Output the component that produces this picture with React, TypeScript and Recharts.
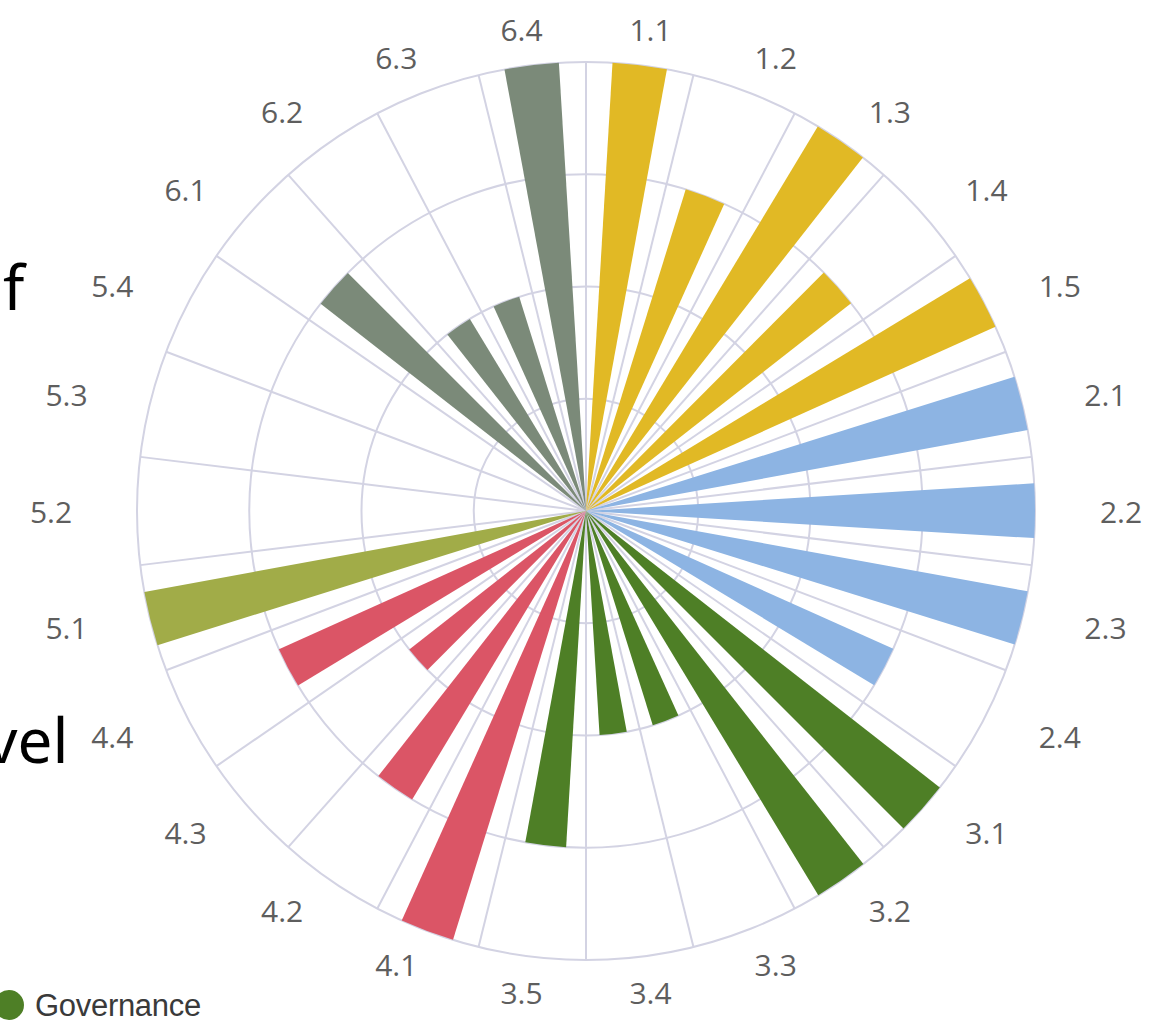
import * as React from "react";
import {
  RadialBarChart,
  RadialBar,
  PolarGrid,
  PolarAngleAxis,
  PolarRadiusAxis,
  Cell
} from "recharts";

// indicator codes, clockwise from 12 o'clock
const categories = [
  "1.1", "1.2", "1.3", "1.4", "1.5",
  "2.1", "2.2", "2.3", "2.4",
  "3.1", "3.2", "3.3", "3.4", "3.5",
  "4.1", "4.2", "4.3", "4.4",
  "5.1", "5.2", "5.3", "5.4",
  "6.1", "6.2", "6.3", "6.4"
];

// score per indicator (0-4)
const scores = [
  4, 3, 4, 3, 4,
  4, 4, 4, 3,
  4, 4, 2, 2, 3,
  4, 3, 2, 3,
  4, 0, 0, 0,
  3, 2, 2, 4
];

const groupColors: Record<string, string> = {
  "1": "#E1B925",
  "2": "#8DB4E3",
  "3": "#4E7F26",
  "4": "#DB5566",
  "5": "#A1AC48",
  "6": "#7B8A79"
};

const data = categories.map((name, i) => ({ name, value: scores[i] }));

const W = 1171;
const H = 1023;
const CX = 586;
const CY = 511;
const R = 449;
const STEP = 360 / categories.length;

// label sits in the middle of its sector, a bit outside the ring
function AngleTick(props: any) {
  const idx = categories.indexOf(props.payload.value);
  const a = ((90 - (idx + 0.5) * STEP) * Math.PI) / 180;
  const x = CX + (R + 86) * Math.cos(a);
  const y = CY - (R + 36) * Math.sin(a);
  return (
    <text
      x={x}
      y={y}
      textAnchor="middle"
      dominantBaseline="central"
      fill="#5e5e5e"
      fontSize={30}
      fontFamily="'Open Sans', sans-serif"
    >
      {props.payload.value}
    </text>
  );
}

export default function App() {
  // spokes sit on the sector boundaries, not on the category centres
  const spokeAngles = categories.map((_, i) => 90 - i * STEP);

  return (
    <div style={{ position: "absolute", left: 0, top: 0, width: W, height: H, overflow: "hidden", background: "#fff" }}>
      <RadialBarChart
        width={W}
        height={H}
        data={data}
        cx={CX}
        cy={CY}
        innerRadius={0}
        outerRadius={R}
        startAngle={90 - STEP}
        endAngle={-270 - STEP}
        layout="centric"
        barCategoryGap="25%"
        margin={{ top: 0, right: 0, bottom: 0, left: 0 }}
      >
        <PolarGrid gridType="circle" polarAngles={spokeAngles} stroke="#D3D3E3" strokeWidth={2} />
        <PolarAngleAxis
          dataKey="name"
          type="category"
          tickLine={false}
          axisLine={false}
          tick={<AngleTick />}
        />
        <PolarRadiusAxis type="number" domain={[0, 4]} tickCount={5} tick={false} axisLine={false} />
        <RadialBar dataKey="value" isAnimationActive={false}>
          {data.map((d, i) => (
            <Cell key={`cell-${i}`} fill={groupColors[d.name.split(".")[0]]} />
          ))}
        </RadialBar>
      </RadialBarChart>

      <div style={{ position: "absolute", left: 3, top: 246, lineHeight: "80px", fontFamily: "'Noto Sans', sans-serif", fontSize: 62, color: "#000" }}>f</div>
      <div style={{ position: "absolute", left: -14, top: 699, lineHeight: "80px", fontFamily: "'Noto Sans', sans-serif", fontSize: 62, color: "#000" }}>vel</div>

      <div style={{ position: "absolute", left: -6, top: 990, height: 30, display: "flex", alignItems: "center", lineHeight: 1 }}>
        <span style={{ display: "inline-block", width: 30, height: 30, borderRadius: 15, background: "#4E7F26" }} />
        <span style={{ marginLeft: 11, fontFamily: "'Liberation Sans', Arial, sans-serif", fontSize: 31, lineHeight: "31px", color: "#3a3a3a", letterSpacing: -0.3 }}>Governance</span>
      </div>
    </div>
  );
}
